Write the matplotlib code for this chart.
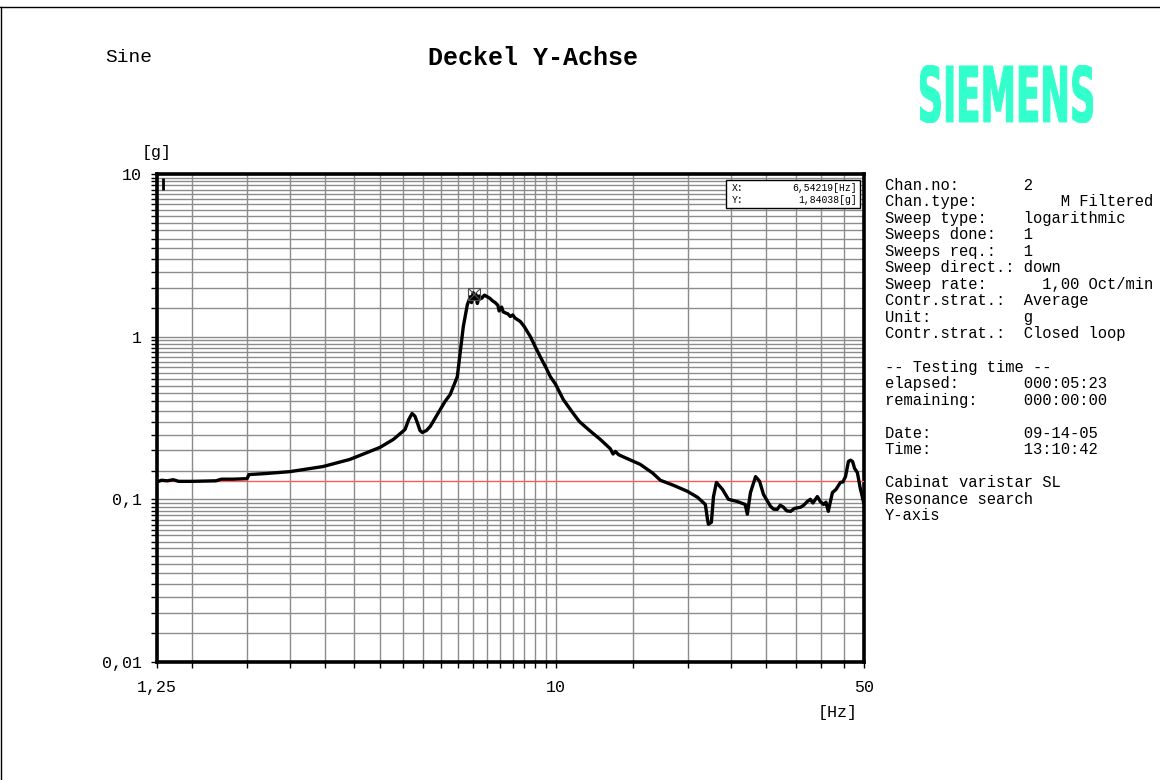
import numpy as np
import matplotlib
matplotlib.use("Agg")
import matplotlib.pyplot as plt
from matplotlib.ticker import NullFormatter
from matplotlib.textpath import TextPath
from matplotlib.patches import PathPatch, Rectangle
from matplotlib.font_manager import FontProperties

# sweep result
freq_hz = [1.25, 1.28, 1.32, 1.36, 1.40, 1.50, 1.70, 1.75, 1.86, 2.0, 2.02, 2.2, 2.5,
           2.97, 3.42, 4.0, 4.29, 4.56, 4.65, 4.73, 4.8, 4.86, 4.93, 4.99, 5.1, 5.2,
           5.48, 5.62, 5.77, 5.99, 6.08, 6.18, 6.31, 6.41, 6.45, 6.51, 6.56, 6.6, 6.65,
           6.72, 6.8, 6.9, 7.0, 7.1, 7.2, 7.3, 7.4, 7.45, 7.55, 7.61, 7.7, 7.8, 7.9,
           8.0, 8.1, 8.32, 8.5, 8.77, 8.99, 9.23, 9.5, 9.73, 10.0, 10.41, 10.9, 11.32,
           12.0, 12.63, 13.3, 13.5, 13.66, 13.9, 14.4, 15.56, 16.6, 17.28, 18.5, 19.9,
           20.97, 21.85, 22.1, 22.2, 22.55, 22.8, 23.15, 23.9, 24.65, 25.8, 26.9,
           27.2, 27.65, 28.4, 29.0, 29.6, 30.7, 31.2, 31.8, 32.3, 32.85, 33.4, 34.1,
           34.8, 35.9, 36.5, 37.2, 37.8, 38.3, 39.2, 39.8, 40.5, 41.0, 41.5, 42.4,
           43.2, 44.2, 44.8, 45.4, 46.1, 46.6, 47.1, 47.6, 48.3, 49.0, 49.9]
accel_g = [0.128, 0.131, 0.130, 0.132, 0.129, 0.129, 0.130, 0.133, 0.133, 0.134, 0.142,
           0.144, 0.148, 0.159, 0.176, 0.2085, 0.2335, 0.2688, 0.31, 0.337, 0.325,
           0.297, 0.265, 0.2576, 0.265, 0.2805, 0.3566, 0.40, 0.4406, 0.568, 0.7977,
           1.152, 1.57, 1.76, 1.62, 1.86, 1.70, 1.82, 1.60, 1.78, 1.72, 1.80, 1.76,
           1.72, 1.66, 1.62, 1.56, 1.44, 1.52, 1.42, 1.40, 1.38, 1.33, 1.36, 1.30,
           1.24, 1.15, 1.0, 0.87, 0.754, 0.65, 0.568, 0.51, 0.411, 0.345, 0.301,
           0.262, 0.2335, 0.205, 0.19, 0.197, 0.188, 0.18, 0.164, 0.145, 0.131,
           0.122, 0.112, 0.103, 0.093, 0.075, 0.0703, 0.0723, 0.104, 0.127, 0.115,
           0.100, 0.097, 0.093, 0.081, 0.110, 0.138, 0.129, 0.107, 0.0906, 0.087,
           0.0868, 0.092, 0.0894, 0.085, 0.0844, 0.088, 0.0894, 0.092, 0.097, 0.100,
           0.095, 0.104, 0.097, 0.093, 0.096, 0.0844, 0.110, 0.115, 0.127, 0.128,
           0.138, 0.171, 0.174, 0.171, 0.155, 0.146, 0.118, 0.0958]

ref_level = 0.129
cursor_x = 6.54219
cursor_y = 1.84038

x_major = [1.25, 10, 50]
x_major_labels = ['1,25', '10', '50']
x_grid = [1.5, 2, 2.5, 3, 3.5, 4, 4.5, 5, 5.5, 6, 6.5, 7, 7.5, 8, 8.5, 9, 9.5,
          15, 20, 25, 30, 35, 40, 45]
y_major = [0.01, 0.1, 1, 10]
y_major_labels = ['0,01', '0,1', '1', '10']
y_steps = [1.5, 2, 2.5, 3, 3.5, 4, 4.5, 5, 5.5, 6, 6.5, 7, 7.5, 8, 8.5, 9, 9.5]

info_lines = [
    "Chan.no:       2",
    "Chan.type:         M Filtered",
    "Sweep type:    logarithmic",
    "Sweeps done:   1",
    "Sweeps req.:   1",
    "Sweep direct.: down",
    "Sweep rate:      1,00 Oct/min",
    "Contr.strat.:  Average",
    "Unit:          g",
    "Contr.strat.:  Closed loop",
    "",
    "-- Testing time --",
    "elapsed:       000:05:23",
    "remaining:     000:00:00",
    "",
    "Date:          09-14-05",
    "Time:          13:10:42",
    "",
    "Cabinat varistar SL",
    "Resonance search",
    "Y-axis",
]

mono = 'Liberation Mono'
plt.rcParams['font.family'] = [mono, 'DejaVu Sans']

W, H = 1160, 780
fig = plt.figure(figsize=(W / 100, H / 100), dpi=100)
fig.patch.set_facecolor('white')

def fx(px):
    return px / W

def fy(py):
    return 1 - py / H

# page frame (top and left edge)
fig.add_artist(plt.Line2D([0, 1], [fy(7), fy(7)], color='black', lw=1))
fig.add_artist(plt.Line2D([fx(1), fx(1)], [0, fy(7)], color='black', lw=1))

fig.text(fx(105), fy(58), 'Sine', fontsize=14, va='center', ha='left')
fig.text(fx(533), fy(58), 'Deckel Y-Achse', fontsize=18, fontweight='bold',
         va='center', ha='center')

# SIEMENS logo, squeezed into its box
tp = TextPath((0, 0), 'SIEMENS', size=1,
              prop=FontProperties(family='DejaVu Sans', weight='bold'))
ext = tp.get_extents()
ax_logo = fig.add_axes([fx(920), fy(123), fx(1093) - fx(920), fy(65) - fy(123)])
ax_logo.add_patch(PathPatch(tp, facecolor='#33ffcc', edgecolor='#33ffcc', lw=0.8))
ax_logo.set_xlim(ext.x0, ext.x1)
ax_logo.set_ylim(ext.y0, ext.y1)
ax_logo.axis('off')

# main plot
ax = fig.add_axes([fx(157), fy(662), fx(864) - fx(157), fy(174) - fy(662)])
ax.set_xscale('log')
ax.set_yscale('log')
ax.set_xlim(1.25, 50)
ax.set_ylim(0.01, 10)

y_grid = []
for dec in [0.01, 0.1, 1]:
    y_grid += [s * dec for s in y_steps]
ax.set_xticks(x_major)
ax.set_xticklabels(x_major_labels)
ax.set_xticks(x_grid, minor=True)
ax.set_yticks(y_major)
ax.set_yticklabels(y_major_labels)
ax.set_yticks(y_grid, minor=True)
ax.xaxis.set_minor_formatter(NullFormatter())
ax.yaxis.set_minor_formatter(NullFormatter())

ax.tick_params(which='both', direction='out', length=4, width=1, color='black',
               labelsize=12)
ax.tick_params(axis='y', pad=7)
ax.tick_params(axis='x', pad=9)

ax.grid(which='both', color='#8c8c8c', lw=1.0)
ax.set_axisbelow(True)
for sp in ax.spines.values():
    sp.set_linewidth(2.6)
    sp.set_color('black')

ax.axhline(ref_level, color='#ff5a5a', lw=1.0, zorder=3)
ax.plot(freq_hz, accel_g, color='black', lw=2.4, zorder=4, solid_joinstyle='round')

# cursor marker and start mark
ax.plot([cursor_x], [cursor_y], marker='s', ms=9, mfc='none', mec='#505050', mew=0.8, zorder=5)
ax.plot([cursor_x], [cursor_y], marker='x', ms=8, mec='#505050', mew=0.8, zorder=5)
ax.plot([1.29], [8.68], marker='|', ms=8, mew=2, color='black', zorder=5)

# cursor readout box
ax.add_patch(Rectangle((0.805, 0.931), 0.19, 0.056, transform=ax.transAxes,
                       facecolor='white', edgecolor='black', lw=1, zorder=6))
ax.text(0.813, 0.972, 'X:', transform=ax.transAxes, fontsize=7, va='center', zorder=7)
ax.text(0.813, 0.946, 'Y:', transform=ax.transAxes, fontsize=7, va='center', zorder=7)
ax.text(0.99, 0.972, '6,54219[Hz]', transform=ax.transAxes, fontsize=7,
        va='center', ha='right', zorder=7)
ax.text(0.99, 0.946, '1,84038[g]', transform=ax.transAxes, fontsize=7,
        va='center', ha='right', zorder=7)

fig.text(fx(157), fy(153), '[g]', fontsize=12, ha='center', va='center')
fig.text(fx(858), fy(713), '[Hz]', fontsize=12, ha='right', va='center')

# info panel on the right
for i, line in enumerate(info_lines):
    fig.text(fx(885), fy(185 + i * 16.55), line, fontsize=11.2, ha='left', va='center')

fig.savefig('out.png', dpi=100)
